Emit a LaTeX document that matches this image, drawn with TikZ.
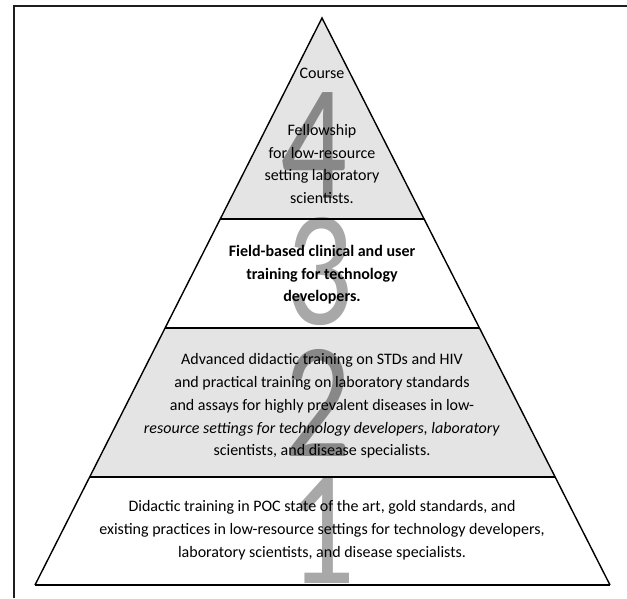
\documentclass[tikz,border=0pt]{standalone}
\usepackage{fontspec}
\usepackage{graphicx}
\setmainfont{Carlito}
\usetikzlibrary{calc}
\definecolor{tiergray}{HTML}{E4E4E4}
\definecolor{digdark}{HTML}{888888}
\definecolor{diglight}{HTML}{A8A8A8}
\definecolor{framecol}{HTML}{1E1E1E}
\tikzset{
  tiertext/.style={align=center, font=\fontsize{16}{22.8}\selectfont, inner sep=0pt, text=black},
  bigdigit/.style={inner sep=0pt, font=\fontsize{165}{165}\selectfont},
  edge/.style={line width=1.4pt, black, line join=miter},
  divider/.style={line width=1.8pt, black},
}
\newcommand{\narrowdig}[1]{\scalebox{0.8}[1]{#1}}
\begin{document}
\begin{tikzpicture}[x=1pt,y=-1pt]
\useasboundingbox (0,0) rectangle (627,598);
\fill[white] (0,0) rectangle (627,598);
% frame (open on right and bottom)
\draw[line width=2pt, framecol] (14,598) -- (14,6) -- (627,6);
% pyramid corners
\coordinate (apex) at (322,18);
\coordinate (bl) at (35,585);
\coordinate (br) at (610,585);
\coordinate (l43) at ($(apex)!0.3545!(bl)$);
\coordinate (r43) at ($(apex)!0.3545!(br)$);
\coordinate (l32) at ($(apex)!0.5467!(bl)$);
\coordinate (r32) at ($(apex)!0.5467!(br)$);
\coordinate (l21) at ($(apex)!0.8095!(bl)$);
\coordinate (r21) at ($(apex)!0.8095!(br)$);
% tier fills
\fill[tiergray] (apex) -- (l43) -- (r43) -- cycle;
\fill[white] (l43) -- (l32) -- (r32) -- (r43) -- cycle;
\fill[tiergray] (l32) -- (l21) -- (r21) -- (r32) -- cycle;
\fill[white] (l21) -- (bl) -- (br) -- (r21) -- cycle;
% big digits
\node[bigdigit, text=digdark] (d4) at (314,146) {\narrowdig{4}};
\node[bigdigit, text=diglight] (d3) at (320,272) {\narrowdig{3}};
\node[bigdigit, text=digdark] (d2) at (318,403) {\narrowdig{2}};
\node[bigdigit, text=diglight] (d1) at (322,530) {\narrowdig{1}};
% texts
\node[tiertext] (course) at (322,73) {Course};
\node[tiertext] (t4) at (322,164) {Fellowship\\for low-resource\\setting laboratory\\scientists.};
\node[tiertext, font=\fontsize{16}{22.5}\selectfont\bfseries] (t3) at (322,275) {Field-based clinical and user\\training for technology\\developers.};
\node[tiertext] (t2) at (322,406) {Advanced didactic training on STDs and HIV\\and practical training on laboratory standards\\and assays for highly prevalent diseases in low-\\\textit{resource settings for technology developers, laboratory}\\scientists, and disease specialists.};
\node[tiertext] (t1) at (322,530) {Didactic training in POC state of the art, gold standards, and\\existing practices in low-resource settings for technology developers,\\laboratory scientists, and disease specialists.};
% outline and dividers
\draw[edge] (bl) -- (apex) -- (br);
\draw[divider] (bl) -- (br);
\draw[divider] (l43) -- (r43);
\draw[divider] (l32) -- (r32);
\draw[divider] (l21) -- (r21);
\end{tikzpicture}
\end{document}
